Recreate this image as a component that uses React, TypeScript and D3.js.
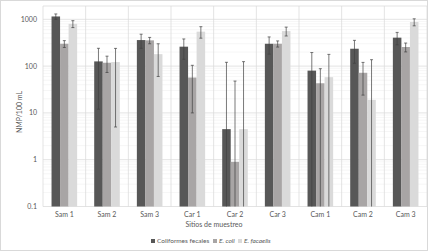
import React from "react";
import * as d3 from "d3";

const categories = ["Sam 1", "Sam 2", "Sam 3", "Car 1", "Car 2", "Car 3", "Cam 1", "Cam 2", "Cam 3"];
const seriesNames = ["Coliformes fecales", "E. coli", "E. facaelis"];
const coliformes = [1150, 126, 360, 260, 4.5, 300, 80, 235, 405];
const coliformesErr = [150, 114, 120, 120, 116, 120, 115, 120, 120];
const eColi = [300, 118, 355, 57, 0.9, 300, 43, 72, 256];
const eColiErr = [50, 45, 55, 47, 47, 45, 45, 48, 55];
const eFaecalis = [800, 122, 180, 545, 4.5, 560, 58, 19, 875];
const eFaecalisErr = [135, 117, 120, 150, 120, 120, 120, 118, 150];
const yTicks = [0.1, 1, 10, 100, 1000];
const yTickLabels = ["0.1", "1", "10", "100", "1000"];
const colors = ["#575757", "#a8a5a5", "#dadada"];

const W = 428, H = 251;
const plot = { left: 43, right: 427, top: 6, bottom: 206.5 };

export default function App() {
  const values = [coliformes, eColi, eFaecalis];
  const errs = [coliformesErr, eColiErr, eFaecalisErr];
  const yMin = 0.1;
  const yMax = Math.pow(10, 3 + (19.3 - plot.top) / 46.8);
  const y = d3.scaleLog().domain([yMin, yMax]).range([plot.bottom, plot.top]);
  const x0 = d3.scaleBand().domain(categories).range([plot.left, plot.right]).paddingInner(0).paddingOuter(0);
  const inner = d3.scaleBand().domain(["0", "1", "2"]).range([x0.bandwidth() * 0.2, x0.bandwidth() * 0.8]).padding(0);

  const minor: number[] = [];
  for (let e = -1; e <= 3; e++) {
    for (let m = 2; m <= 9; m++) {
      const v = m * Math.pow(10, e);
      if (v < yMax) minor.push(v);
    }
  }
  const font = "Lato, 'Open Sans', sans-serif";
  const clampY = (v: number) => y(Math.max(yMin, Math.min(yMax, v)));

  return (
    <svg width={W} height={H} style={{ position: "absolute", left: 0, top: 0, background: "#fff" }} fontFamily={font}>
      <rect x={0.5} y={0.5} width={W - 1} height={H - 1} fill="#fff" stroke="#d9d9d9" />
      {minor.map((v, i) => (
        <line key={"mn" + i} x1={plot.left} x2={plot.right} y1={y(v)} y2={y(v)} stroke="#f3f3f3" strokeWidth={0.75} />
      ))}
      {yTicks.map((v, i) => (
        <line key={"mj" + i} x1={plot.left} x2={plot.right} y1={y(v)} y2={y(v)} stroke="#d9d9d9" strokeWidth={0.75} />
      ))}
      {categories.map((c, i) => (
        <line key={"vg" + i} x1={(x0(c) as number) + x0.bandwidth()} x2={(x0(c) as number) + x0.bandwidth()} y1={plot.top} y2={plot.bottom} stroke="#d9d9d9" strokeWidth={0.75} />
      ))}
      <line x1={plot.left} x2={plot.left} y1={plot.top} y2={plot.bottom} stroke="#d9d9d9" strokeWidth={0.75} />
      <line x1={plot.left} x2={plot.right} y1={plot.top} y2={plot.top} stroke="#d9d9d9" strokeWidth={0.75} />
      {values.map((arr, s) =>
        arr.map((v, i) => {
          const bx = (x0(categories[i]) as number) + (inner(String(s)) as number);
          const by = y(v);
          return (
            <rect key={"b" + s + "-" + i} x={bx} y={by} width={inner.bandwidth()} height={plot.bottom - by} fill={colors[s]} />
          );
        })
      )}
      {values.map((arr, s) =>
        arr.map((v, i) => {
          const cx = (x0(categories[i]) as number) + (inner(String(s)) as number) + inner.bandwidth() / 2;
          const hi = v + errs[s][i];
          const lo = v - errs[s][i];
          const yHi = clampY(hi);
          const yLo = lo > yMin ? y(lo) : plot.bottom;
          return (
            <g key={"e" + s + "-" + i} stroke="#404040" strokeWidth={0.7}>
              <line x1={cx} x2={cx} y1={yHi} y2={yLo} />
              <line x1={cx - 1.5} x2={cx + 1.5} y1={yHi} y2={yHi} />
              {lo > yMin && <line x1={cx - 1.5} x2={cx + 1.5} y1={yLo} y2={yLo} />}
            </g>
          );
        })
      )}
      {yTicks.map((v, i) => (
        <text key={"yt" + i} x={37} y={y(v)} dy="0.35em" textAnchor="end" fontSize={7} fill="#595959">
          {yTickLabels[i]}
        </text>
      ))}
      {categories.map((c, i) => (
        <text key={"xt" + i} x={(x0(c) as number) + x0.bandwidth() / 2} y={216.5} textAnchor="middle" fontSize={7} fill="#595959">
          {c}
        </text>
      ))}
      <text x={214} y={227} textAnchor="middle" fontSize={7} fill="#595959">Sitios de muestreo</text>
      <text transform={`translate(22,112) rotate(-90)`} textAnchor="middle" fontSize={7} fill="#595959">NMP/100 mL</text>
      <g fontSize={6.5} fill="#595959">
        <rect x={151} y={239} width={4} height={4} fill={colors[0]} />
        <text x={157} y={243}>{seriesNames[0]}</text>
        <rect x={213} y={239} width={4} height={4} fill={colors[1]} />
        <text x={219} y={243} fontStyle="italic">{seriesNames[1]}</text>
        <rect x={238} y={239} width={4} height={4} fill={colors[2]} />
        <text x={244} y={243} fontStyle="italic">{seriesNames[2]}</text>
      </g>
    </svg>
  );
}
